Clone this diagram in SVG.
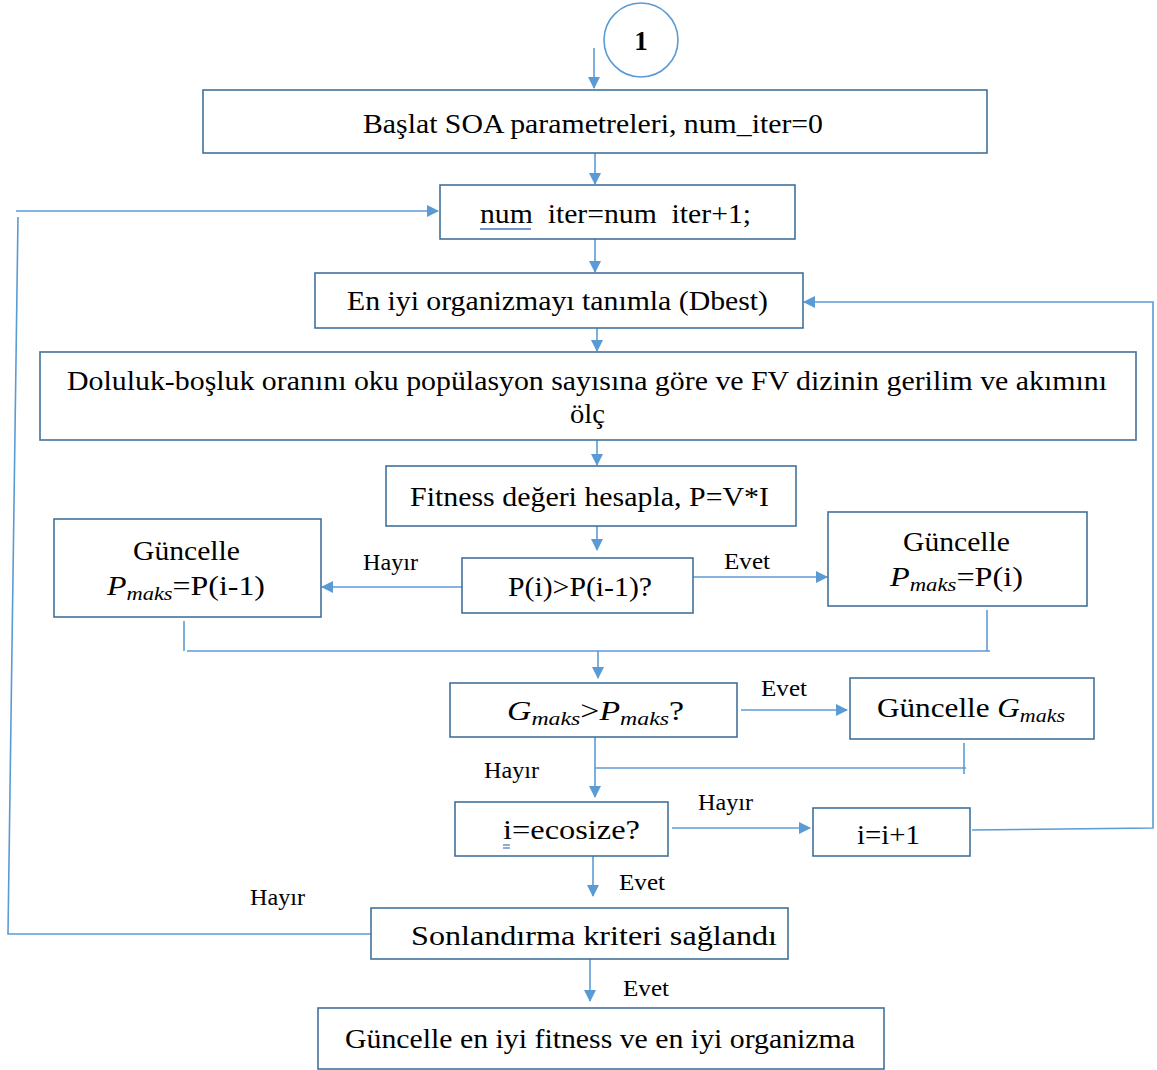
<svg xmlns="http://www.w3.org/2000/svg" width="1157" height="1070" viewBox="0 0 1157 1070">
<defs>
<marker id="ah" markerWidth="12" markerHeight="12" refX="11" refY="6" orient="auto" markerUnits="userSpaceOnUse">
<path d="M0,0 L12,6 L0,12 Z" fill="#5B9BD5"/>
</marker>
<style>
.box{fill:#fff;stroke:#41719C;stroke-width:1.6}
.con{fill:none;stroke:#5B9BD5;stroke-width:1.6}
.t{font-family:"Liberation Serif","Times New Roman",serif;font-size:27px;fill:#000;white-space:pre}
.lbl{font-family:"Liberation Serif","Times New Roman",serif;font-size:23px;fill:#000}
.m{font-style:italic}
.sub{font-style:italic;font-size:19px}
</style>
</defs>
<rect width="1157" height="1070" fill="#fff"/>

<g id="connectors">
<line class="con" x1="594" y1="48" x2="594" y2="88" marker-end="url(#ah)"/>
<line class="con" x1="595" y1="153" x2="595" y2="184" marker-end="url(#ah)"/>
<line class="con" x1="595" y1="239" x2="595" y2="272" marker-end="url(#ah)"/>
<line class="con" x1="597" y1="328" x2="597" y2="351" marker-end="url(#ah)"/>
<line class="con" x1="597" y1="440" x2="597" y2="465" marker-end="url(#ah)"/>
<line class="con" x1="597" y1="526" x2="597" y2="550" marker-end="url(#ah)"/>
<line class="con" x1="462" y1="587" x2="322" y2="587" marker-end="url(#ah)"/>
<line class="con" x1="693" y1="577" x2="827" y2="577" marker-end="url(#ah)"/>
<line class="con" x1="184" y1="621" x2="184" y2="651"/>
<line class="con" x1="987" y1="610" x2="987" y2="651"/>
<line class="con" x1="187" y1="651" x2="990" y2="651"/>
<line class="con" x1="598" y1="651" x2="598" y2="678" marker-end="url(#ah)"/>
<line class="con" x1="741" y1="710" x2="847" y2="710" marker-end="url(#ah)"/>
<line class="con" x1="595" y1="737" x2="595" y2="797" marker-end="url(#ah)"/>
<line class="con" x1="964" y1="743" x2="964" y2="774"/>
<line class="con" x1="595" y1="768" x2="966" y2="768"/>
<line class="con" x1="672" y1="828" x2="810" y2="828" marker-end="url(#ah)"/>
<path class="con" d="M972,830 L1153,828 L1153,302 L804,302" marker-end="url(#ah)"/>
<line class="con" x1="593" y1="856" x2="593" y2="896" marker-end="url(#ah)"/>
<path class="con" d="M371,934 L8,934 L18,217"/>
<line class="con" x1="16" y1="211" x2="438" y2="211" marker-end="url(#ah)"/>
<line class="con" x1="590" y1="959" x2="590" y2="1001" marker-end="url(#ah)"/>
<text class="lbl" x="363" y="570" textLength="55" lengthAdjust="spacingAndGlyphs">Hayır</text>
<text class="lbl" x="724" y="569" textLength="46" lengthAdjust="spacingAndGlyphs">Evet</text>
<text class="lbl" x="761" y="696" textLength="46" lengthAdjust="spacingAndGlyphs">Evet</text>
<text class="lbl" x="484" y="778" textLength="55" lengthAdjust="spacingAndGlyphs">Hayır</text>
<text class="lbl" x="698" y="810" textLength="55" lengthAdjust="spacingAndGlyphs">Hayır</text>
<text class="lbl" x="619" y="890" textLength="46" lengthAdjust="spacingAndGlyphs">Evet</text>
<text class="lbl" x="250" y="905" textLength="55" lengthAdjust="spacingAndGlyphs">Hayır</text>
<text class="lbl" x="623" y="996" textLength="46" lengthAdjust="spacingAndGlyphs">Evet</text>
</g>

<g id="start">
<circle cx="641" cy="40" r="37" fill="#fff" stroke="#5B9BD5" stroke-width="1.6"/>
<text class="t" x="641" y="50" font-weight="bold" text-anchor="middle">1</text>
</g>

<g id="init">
<rect class="box" x="203" y="90" width="784" height="63"/>
<text class="t" x="363" y="133" textLength="460" lengthAdjust="spacingAndGlyphs">Başlat SOA parametreleri, num_iter=0</text>
</g>

<g id="iter">
<rect class="box" x="440" y="185" width="355" height="54"/>
<text class="t" x="480" y="223" textLength="271" lengthAdjust="spacingAndGlyphs">num  iter=num  iter+1;</text>
<line x1="480" y1="229" x2="531" y2="229" stroke="#4472C4" stroke-width="1.3"/>
</g>

<g id="best">
<rect class="box" x="315" y="273" width="488" height="55"/>
<text class="t" x="347" y="310" textLength="421" lengthAdjust="spacingAndGlyphs">En iyi organizmayı tanımla (Dbest)</text>
</g>

<g id="read">
<rect class="box" x="40" y="352" width="1096" height="88"/>
<text class="t" x="67" y="390" textLength="1040" lengthAdjust="spacingAndGlyphs">Doluluk-boşluk oranını oku popülasyon sayısına göre ve FV dizinin gerilim ve akımını</text>
<text class="t" x="570" y="423" textLength="35" lengthAdjust="spacingAndGlyphs">ölç</text>
</g>

<g id="fitness">
<rect class="box" x="386" y="466" width="410" height="60"/>
<text class="t" x="410" y="506" textLength="359" lengthAdjust="spacingAndGlyphs">Fitness değeri hesapla, P=V*I</text>
</g>

<g id="cmp">
<rect class="box" x="462" y="558" width="231" height="55"/>
<text class="t" x="508" y="596" textLength="144" lengthAdjust="spacingAndGlyphs">P(i)&gt;P(i-1)?</text>
</g>

<g id="updLeft">
<rect class="box" x="54" y="519" width="267" height="98"/>
<text class="t" x="133" y="560" textLength="107" lengthAdjust="spacingAndGlyphs">Güncelle</text>
<text class="t" x="107" y="595" textLength="158" lengthAdjust="spacingAndGlyphs"><tspan class="m">P</tspan><tspan class="sub" dy="5">maks</tspan><tspan dy="-5">=P(i-1)</tspan></text>
</g>

<g id="updRight">
<rect class="box" x="828" y="512" width="259" height="94"/>
<text class="t" x="903" y="551" textLength="107" lengthAdjust="spacingAndGlyphs">Güncelle</text>
<text class="t" x="890" y="586" textLength="133" lengthAdjust="spacingAndGlyphs"><tspan class="m">P</tspan><tspan class="sub" dy="5">maks</tspan><tspan dy="-5">=P(i)</tspan></text>
</g>

<g id="gcmp">
<rect class="box" x="450" y="683" width="287" height="54"/>
<text class="t" x="507" y="720" textLength="177" lengthAdjust="spacingAndGlyphs"><tspan class="m">G</tspan><tspan class="sub" dy="5">maks</tspan><tspan dy="-5">&gt;</tspan><tspan class="m">P</tspan><tspan class="sub" dy="5">maks</tspan><tspan dy="-5">?</tspan></text>
</g>

<g id="gupd">
<rect class="box" x="850" y="678" width="244" height="61"/>
<text class="t" x="877" y="717" textLength="188" lengthAdjust="spacingAndGlyphs">Güncelle <tspan class="m">G</tspan><tspan class="sub" dy="5">maks</tspan></text>
</g>

<g id="eco">
<rect class="box" x="455" y="802" width="213" height="54"/>
<text class="t" x="503" y="839" textLength="137" lengthAdjust="spacingAndGlyphs">i=ecosize?</text>
<line x1="503" y1="845" x2="510" y2="845" stroke="#4472C4" stroke-width="1.2"/>
<line x1="503" y1="848" x2="510" y2="848" stroke="#4472C4" stroke-width="1.2"/>
</g>

<g id="inc">
<rect class="box" x="813" y="808" width="157" height="48"/>
<text class="t" x="857" y="844" textLength="63" lengthAdjust="spacingAndGlyphs">i=i+1</text>
</g>

<g id="term">
<rect class="box" x="371" y="908" width="417" height="51"/>
<text class="t" x="411" y="945" textLength="366" lengthAdjust="spacingAndGlyphs">Sonlandırma kriteri sağlandı</text>
</g>

<g id="final">
<rect class="box" x="318" y="1008" width="566" height="61"/>
<text class="t" x="345" y="1048" textLength="510" lengthAdjust="spacingAndGlyphs">Güncelle en iyi fitness ve en iyi organizma</text>
</g>
</svg>
